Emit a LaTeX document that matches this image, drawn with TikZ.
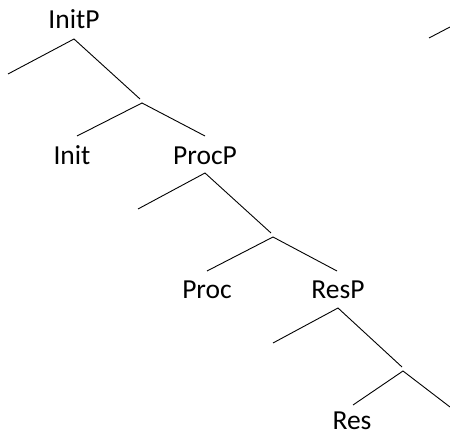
\documentclass[tikz,border=0pt]{standalone}
\usepackage{fontspec}
\setmainfont{Carlito}
\begin{document}
\begin{tikzpicture}[x=1bp,y=-1bp,
  lbl/.style={inner sep=0pt, anchor=base, font=\fontsize{27.5bp}{33bp}\selectfont},
  branch/.style={line width=0.9bp, black}]
\useasboundingbox (0,0) rectangle (450,433);
% labels
\node[lbl] (initp) at (74,29) {InitP};
\node[lbl] (init) at (72,165) {Init};
\node[lbl] (procp) at (205,165) {ProcP};
\node[lbl] (proc) at (207,298) {Proc};
\node[lbl] (resp) at (338,298) {ResP};
\node[lbl] (res) at (352,429.5) {Res};
% branch points
\coordinate (a1) at (74,39);
\coordinate (s1) at (8,74);
\coordinate (t1) at (140,99);
\coordinate (b1) at (142,103);
\coordinate (l1) at (77,136);
\coordinate (r1) at (205,136);
\coordinate (a2) at (205,173);
\coordinate (s2) at (138,209);
\coordinate (t2) at (271,233);
\coordinate (b2) at (273,237);
\coordinate (l2) at (207,271);
\coordinate (r2) at (337,271);
\coordinate (a3) at (338,308);
\coordinate (s3) at (273,343);
\coordinate (t3) at (402,367);
\coordinate (b3) at (403,371);
\coordinate (l3) at (353,405);
\coordinate (r3) at (450,407);
\coordinate (x1) at (429,38);
\coordinate (x2) at (450,27);
% branches
\draw[branch] (s1) -- (a1) -- (t1);
\draw[branch] (l1) -- (b1) -- (r1);
\draw[branch] (s2) -- (a2) -- (t2);
\draw[branch] (l2) -- (b2) -- (r2);
\draw[branch] (s3) -- (a3) -- (t3);
\draw[branch] (l3) -- (b3) -- (r3);
\draw[branch] (x1) -- (x2);
\end{tikzpicture}
\end{document}
